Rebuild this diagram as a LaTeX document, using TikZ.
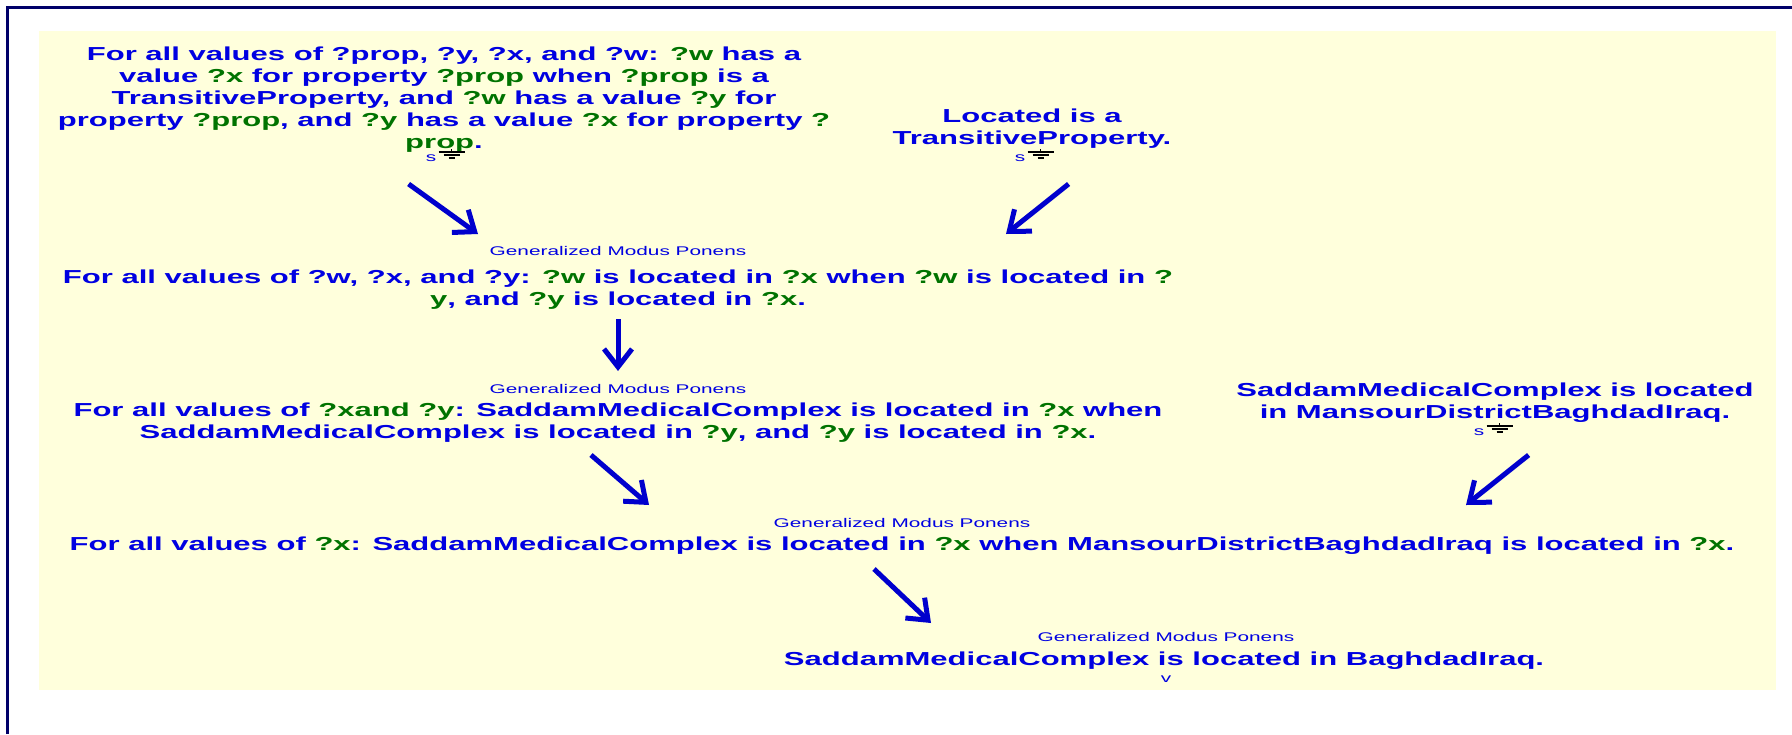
\documentclass[tikz,border=0pt]{standalone}
\usepackage{fontspec}
\setmainfont{Liberation Sans}[FakeStretch=1.65]
\usepackage{tikz}
\usetikzlibrary{arrows.meta}
\usepackage{xcolor}

\definecolor{stmtblue}{RGB}{0,0,225}
\definecolor{vargreen}{RGB}{0,115,0}
\definecolor{arrowblue}{RGB}{0,0,205}
\definecolor{framenavy}{RGB}{0,0,105}
\definecolor{paneyellow}{RGB}{255,255,220}

% variables are printed in green
\newcommand{\vr}[1]{\textcolor{vargreen}{#1}}

\begin{document}
\begin{tikzpicture}[x=0.5pt, y=-0.5pt,
		stmt/.style={text=stmtblue, font=\fontsize{9.4}{11}\selectfont\bfseries, align=center, inner sep=0pt},
		rulename/.style={text=stmtblue, font=\fontsize{6.3}{7}\selectfont, inner sep=0pt},
		srcmark/.style={text=stmtblue, font=\fontsize{6.3}{7}\selectfont, inner sep=0pt},
		infer/.style={draw=arrowblue, line width=2.5pt, -{Straight Barb[length=9pt, width=14pt]}},
		ground/.pic={
			\draw[black, line width=0.75pt] (0,0) -- (0,3) (-13,3) -- (13,3) (-8,6) -- (8,6) (-3,9) -- (3,9);
		}]
		\useasboundingbox (0,0) rectangle (1792,734);
		\fill[white] (0,0) rectangle (1792,734);

		% Window frame and pane
		\draw[framenavy, line width=1.5pt] (7.5,734) -- (7.5,7) -- (1792,7);
		\fill[paneyellow] (39,31) rectangle (1776,690);

		% Premises
		\node[stmt] (ax1) at (444,100) {For all values of ?prop, ?y, ?x, and ?w: \vr{?w} has a\\
			value \vr{?x} for property \vr{?prop} when \vr{?prop} is a\\
			TransitiveProperty, and \vr{?w} has a value \vr{?y} for\\
			property \vr{?prop}, and \vr{?y} has a value \vr{?x} for property \vr{?}\\
			\vr{prop}.};
		\node[stmt] (fact1) at (1032,129) {Located is a\\ TransitiveProperty.};
		\node[stmt] (fact2) at (1495,403) {SaddamMedicalComplex is located\\ in MansourDistrictBaghdadIraq.};

		% Source marks
		\node[srcmark] (src1) at (431,158) {s};
		\node[srcmark] (src2) at (1020,158) {s};
		\node[srcmark] (src3) at (1479,432) {s};
		\foreach \m in {src1,src2,src3} {
			\pic at ([shift={(15,-9)}]\m.east) {ground};
		}

		% Derived steps
		\node[rulename] (gmp2) at (618,251) {Generalized Modus Ponens};
		\node[stmt] (res2) at (618,290) {For all values of ?w, ?x, and ?y: \vr{?w} is located in \vr{?x} when \vr{?w} is located in \vr{?}\\
			\vr{y}, and \vr{?y} is located in \vr{?x}.};
		\node[rulename] (gmp3) at (618,389) {Generalized Modus Ponens};
		\node[stmt] (res3) at (618,423) {For all values of \vr{?xand ?y}: SaddamMedicalComplex is located in \vr{?x} when\\
			SaddamMedicalComplex is located in \vr{?y}, and \vr{?y} is located in \vr{?x}.};
		\node[rulename] (gmp4) at (902,523) {Generalized Modus Ponens};
		\node[stmt] (res4) at (902,546) {For all values of \vr{?x}: SaddamMedicalComplex is located in \vr{?x} when MansourDistrictBaghdadIraq is located in \vr{?x}.};
		\node[rulename] (gmp5) at (1166,637) {Generalized Modus Ponens};
		\node[stmt] (res5) at (1164,661) {SaddamMedicalComplex is located in BaghdadIraq.};
		\node[srcmark] (tail5) at (1166,679) {v};

		% Inference arrows
		\draw[infer] ([shift={(-28,26)}]src1.east) -- ([shift={(-140,-17)}]gmp2.center);
		\draw[infer] ([shift={(43,26)}]src2.east) -- ([shift={(388,-17)}]gmp2.center);
		\draw[infer] ([shift={(0,29)}]res2.center) -- ([shift={(0,-18)}]gmp3.center);
		\draw[infer] ([shift={(-27,32)}]res3.center) -- ([shift={(-253,-18)}]gmp4.center);
		\draw[infer] ([shift={(44,23)}]src3.east) -- ([shift={(564,-18)}]gmp4.center);
		\draw[infer] ([shift={(-28,23)}]res4.center) -- ([shift={(-235,-14)}]gmp5.center);
	\end{tikzpicture}
\end{document}
